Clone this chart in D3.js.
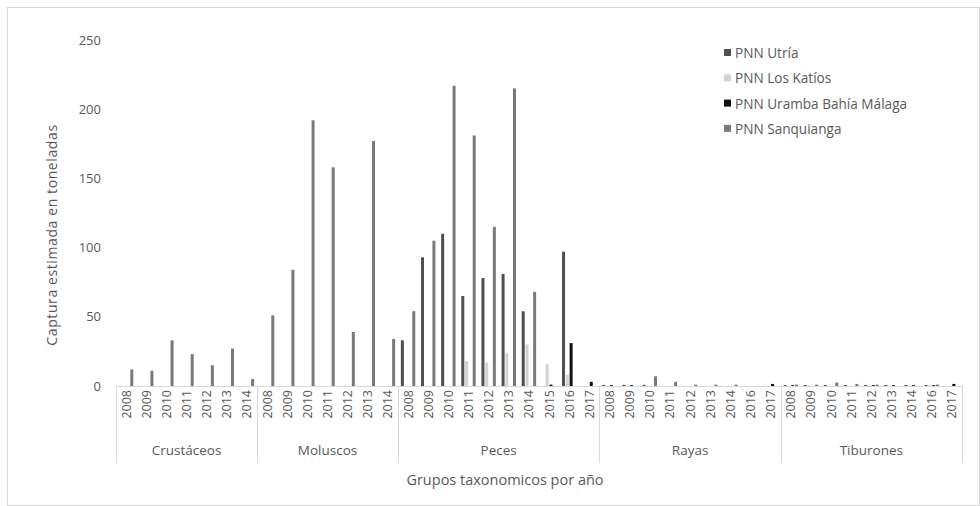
<!DOCTYPE html>
<html>
<head>
<meta charset="utf-8">
<script src="https://cdn.jsdelivr.net/npm/d3@7"></script>
<style>
  html, body { margin: 0; padding: 0; background: #ffffff; }
  svg { display: block; }
  text { font-family: "Open Sans", "Noto Sans", sans-serif; fill: #595959; }
</style>
</head>
<body>
<svg id="chart" width="980" height="506"></svg>
<script>
// ---- Data ----
const groups = ["Crustáceos", "Moluscos", "Peces", "Rayas", "Tiburones"];
const crustaceosYears = ["2008","2009","2010","2011","2012","2013","2014"];
const moluscosYears   = ["2008","2009","2010","2011","2012","2013","2014"];
const pecesYears      = ["2008","2009","2010","2011","2012","2013","2014","2015","2016","2017"];
const rayasYears      = ["2008","2009","2010","2011","2012","2013","2014","2016","2017"];
const tiburonesYears  = ["2008","2009","2010","2011","2012","2013","2014","2016","2017"];
const yearsByGroup = [crustaceosYears, moluscosYears, pecesYears, rayasYears, tiburonesYears];

const seriesNames = ["PNN Utría", "PNN Los Katíos", "PNN Uramba Bahía Málaga", "PNN Sanquianga"];
const seriesColors = ["#4f4f4f", "#d2d2d2", "#111111", "#7a7a7a"];

// values per series, in category order (Crustáceos, Moluscos, Peces, Rayas, Tiburones)
const utria = [
  0,0,0,0,0,0,0,
  0,0,0,0,0,0,0,
  33,93,110,65,78,81,54,0,97,0,
  0.8,0.8,0.8,0,0,0,0,0,0,
  0.7,0.7,0.7,0.7,0.7,0.7,0.7,0.7,0
];
const losKatios = [
  0,0,0,0,0,0,0,
  0,0,0,0,0,0,0,
  0,0,0,18,17,24,30,16,8,0,
  0,0,0,0,0,0,0,0,0,
  0,0.5,0,0,0,0,0,0.5,0
];
const uramba = [
  0,0,0,0,0,0,0,
  0,0,0,0,0,0,0,
  0,0,0,0,0,0,0,1,31,3,
  0.6,0.6,0,0,0,0,0,0,1.5,
  0.6,0,0,0,0.6,0.6,0.6,0.6,1.5
];
const sanquianga = [
  12,11,33,23,15,27,5,
  51,84,192,158,39,177,34,
  54,105,217,181,115,215,68,0,0,0,
  0,0,7,3,1,1,1,0,0,
  1,1,2.5,1.5,1,0,0,1,0
];
const seriesValues = [utria, losKatios, uramba, sanquianga];
const yTicks = [0, 50, 100, 150, 200, 250];

// ---- Build categories ----
const categories = [];
yearsByGroup.forEach((yrs, gi) => yrs.forEach(y => categories.push({group: groups[gi], year: y, key: groups[gi] + "|" + y})));

const svg = d3.select("#chart");
const W = 980, H = 506;

// outer frame
svg.append("rect").attr("x", 7.5).attr("y", 7.5).attr("width", W - 8).attr("height", H - 8)
  .attr("fill", "#ffffff").attr("stroke", "#d9d9d9").attr("stroke-width", 1);

const plotLeft = 116, plotRight = 962, yBase = 386, yTop = 40;

const x0 = d3.scaleBand().domain(categories.map(c => c.key)).range([plotLeft, plotRight]).paddingInner(0).paddingOuter(0);
const x1 = d3.scaleBand().domain(seriesNames).range([0, x0.bandwidth()]).paddingInner(0).paddingOuter(0.65);
const y = d3.scaleLinear().domain([0, 250]).range([yBase, yTop]);

// y tick labels (no axis line)
const yAxis = d3.axisLeft(y).tickValues(yTicks).tickSize(0).tickPadding(0);
const yg = svg.append("g").attr("transform", `translate(101,0)`).call(yAxis);
yg.select(".domain").remove();
yg.selectAll("text").attr("font-size", 13).attr("fill", "#595959")
  .style("font-family", '"Open Sans", sans-serif');

// bars
const barW = 3;
seriesNames.forEach((s, si) => {
  svg.append("g").selectAll("rect").data(categories.map((c, i) => ({c, v: seriesValues[si][i]})))
    .join("rect")
    .attr("x", d => x0(d.c.key) + x1(s) + (x1.bandwidth() - barW) / 2)
    .attr("width", barW)
    .attr("y", d => y(d.v))
    .attr("height", d => yBase - y(d.v))
    .attr("fill", seriesColors[si]);
});

// x axis line
const lineColor = "#d9d9d9";
svg.append("line").attr("x1", plotLeft).attr("x2", plotRight).attr("y1", yBase + 0.5).attr("y2", yBase + 0.5)
  .attr("stroke", lineColor).attr("stroke-width", 1);

// year labels (rotated)
svg.append("g").selectAll("text").data(categories).join("text")
  .attr("transform", d => `translate(${x0(d.key) + x0.bandwidth() / 2 + 4.5},${390}) rotate(-90)`)
  .attr("text-anchor", "end")
  .attr("font-size", 12.5)
  .attr("fill", "#595959")
  .text(d => d.year);

// group separators and labels
let idx = 0;
const bounds = [];
yearsByGroup.forEach((yrs, gi) => {
  const first = categories[idx].key;
  const last = categories[idx + yrs.length - 1].key;
  bounds.push({g: groups[gi], x0: x0(first), x1: x0(last) + x0.bandwidth()});
  idx += yrs.length;
});
const sepXs = [bounds[0].x0, ...bounds.map(b => b.x1)];
svg.append("g").selectAll("line").data(sepXs).join("line")
  .attr("x1", d => Math.round(d) + 0.5).attr("x2", d => Math.round(d) + 0.5)
  .attr("y1", yBase).attr("y2", 463)
  .attr("stroke", lineColor).attr("stroke-width", 1);
svg.append("g").selectAll("text").data(bounds).join("text")
  .attr("x", d => (d.x0 + d.x1) / 2).attr("y", 455)
  .attr("text-anchor", "middle").attr("font-size", 13.5).attr("fill", "#595959")
  .text(d => d.g);

// axis titles
svg.append("text").attr("x", 505).attr("y", 485).attr("text-anchor", "middle")
  .attr("font-size", 14.5).attr("fill", "#595959").text("Grupos taxonomicos por año");
svg.append("text").attr("transform", "translate(57,235) rotate(-90)").attr("text-anchor", "middle")
  .attr("font-size", 14).attr("letter-spacing", 0.6).attr("fill", "#595959").text("Captura estimada en toneladas");

// legend
const lg = svg.append("g").attr("transform", "translate(724,53)");
seriesNames.forEach((s, i) => {
  const g = lg.append("g").attr("transform", `translate(0,${i * 25.3})`);
  g.append("rect").attr("x", 0).attr("y", -4).attr("width", 7).attr("height", 7).attr("fill", seriesColors[i]);
  g.append("text").attr("x", 11).attr("y", 5).attr("font-size", 13.6).attr("fill", "#595959").text(s);
});
</script>
</body>
</html>
